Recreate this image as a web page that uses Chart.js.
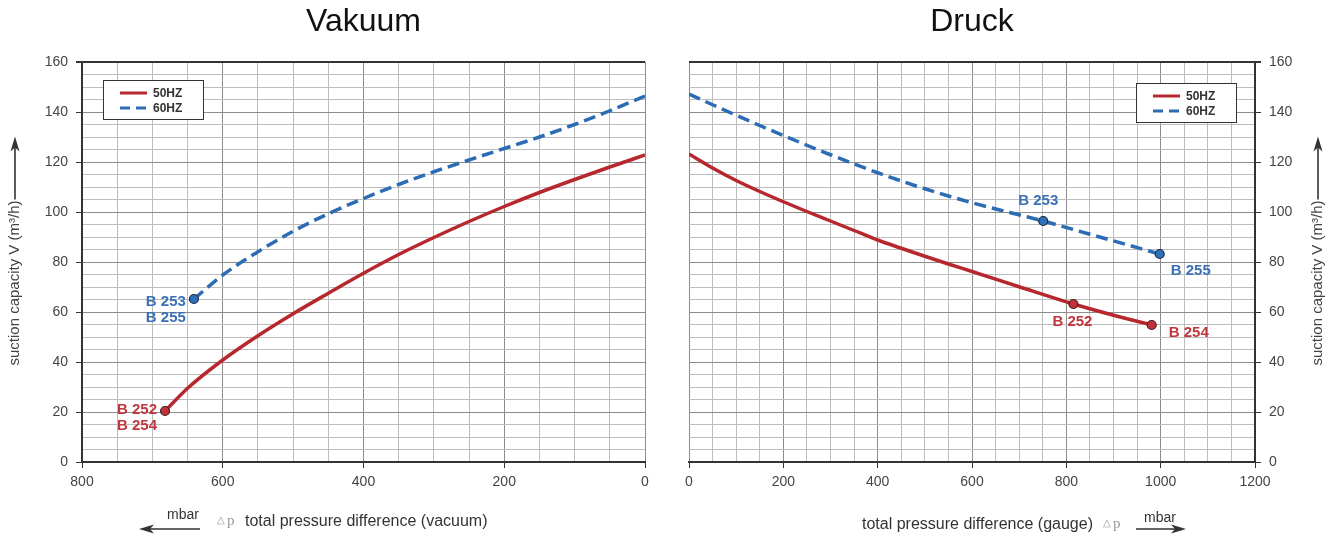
<!DOCTYPE html>
<html>
<head>
<meta charset="utf-8">
<script src="https://cdn.jsdelivr.net/npm/chart.js@4.4.1/dist/chart.umd.min.js"></script>
<style>
  html, body { margin: 0; padding: 0; background: #fff; }
  #wrap { position: relative; width: 1331px; height: 536px; }
  canvas { position: absolute; top: 0; }
  #vac { left: 0; }
  #gauge { left: 665px; }
</style>
</head>
<body>
<div id="wrap">
  <canvas id="vac" width="665" height="536"></canvas>
  <canvas id="gauge" width="666" height="536"></canvas>
</div>
<script>
// values (mbar, m³/h)
const vacPressure50 = [682, 650, 600, 550, 500, 450, 400, 350, 300, 250, 200, 150, 100, 50, 0];
const vacFlow50 = [20.4, 29.5, 40.8, 50.5, 59.3, 67.5, 75.5, 83.0, 89.8, 96.2, 102.2, 107.8, 113.0, 118.0, 122.8];
const vacPressure60 = [641, 600, 550, 500, 450, 400, 350, 300, 250, 200, 150, 100, 50, 0];
const vacFlow60 = [65.2, 74.8, 84.1, 92.3, 99.3, 105.4, 111.0, 116.1, 120.8, 125.4, 130.0, 135.0, 140.5, 146.4];

const gaugePressure50 = [0, 50, 100, 150, 200, 250, 300, 350, 400, 450, 500, 550, 600, 700, 815, 900, 981];
const gaugeFlow50 = [123.2, 117.6, 112.6, 108.2, 104.1, 100.2, 96.4, 92.6, 88.8, 85.5, 82.3, 79.2, 76.2, 70.1, 63.2, 58.7, 54.8];
const gaugePressure60 = [0, 50, 100, 150, 200, 250, 300, 350, 400, 450, 500, 550, 600, 682, 751, 850, 998];
const gaugeFlow60 = [147.2, 142.9, 138.7, 134.6, 130.6, 126.7, 122.9, 119.2, 115.7, 112.4, 109.3, 106.4, 103.7, 99.7, 96.4, 91.1, 83.2];

// indexes of the points that carry a marker dot
const vacMarks50 = [0];
const vacMarks60 = [0];
const gaugeMarks50 = [14, 16];
const gaugeMarks60 = [14, 16];

const seriesNames = ["50HZ", "60HZ"];
const yTicks = [0, 20, 40, 60, 80, 100, 120, 140, 160];

const FONT = "'Liberation Sans', Arial, sans-serif";
const RED = "#b7282e";
const BLUE = "#2b6cb4";
const RED_TXT = "#c1363f";
const BLUE_TXT = "#3b70b5";

function toPoints(xs, ys) {
  return xs.map((x, i) => ({ x: x, y: ys[i] }));
}

function radii(xs, marks) {
  return xs.map((_, i) => (marks.includes(i) ? 4.5 : 0));
}

function makeDatasets(p50, f50, m50, p60, f60, m60) {
  return [
    {
      label: seriesNames[0],
      data: toPoints(p50, f50),
      borderColor: RED,
      borderWidth: 3.5,
      pointRadius: radii(p50, m50),
      pointBackgroundColor: "#c2303c",
      pointBorderColor: "#3b2528",
      pointBorderWidth: 1.2,
      tension: 0.4,
      cubicInterpolationMode: "monotone",
    },
    {
      label: seriesNames[1],
      data: toPoints(p60, f60),
      borderColor: BLUE,
      borderWidth: 3.5,
      borderDash: [12, 6],
      pointRadius: radii(p60, m60),
      pointBackgroundColor: "#2f6fb5",
      pointBorderColor: "#1d2c44",
      pointBorderWidth: 1.2,
      tension: 0.4,
      cubicInterpolationMode: "monotone",
    },
  ];
}

function drawArrow(ctx, x1, y1, x2, y2) {
  // line from (x1,y1) to tip (x2,y2)
  const ang = Math.atan2(y2 - y1, x2 - x1);
  ctx.save();
  ctx.strokeStyle = "#333";
  ctx.fillStyle = "#333";
  ctx.lineWidth = 1.6;
  ctx.beginPath();
  ctx.moveTo(x1, y1);
  ctx.lineTo(x2 - 8 * Math.cos(ang), y2 - 8 * Math.sin(ang));
  ctx.stroke();
  ctx.translate(x2, y2);
  ctx.rotate(ang);
  ctx.beginPath();
  ctx.moveTo(0, 0);
  ctx.lineTo(-15, -4.5);
  ctx.lineTo(-11, 0);
  ctx.lineTo(-15, 4.5);
  ctx.closePath();
  ctx.fill();
  ctx.restore();
}

const decorPlugin = {
  id: "decor",
  afterDraw(chart, args, opts) {
    const ctx = chart.ctx;
    const area = chart.chartArea;
    ctx.save();

    // title
    ctx.fillStyle = "#111";
    ctx.font = "32px " + FONT;
    ctx.textAlign = "center";
    ctx.textBaseline = "middle";
    ctx.fillText(opts.title, (area.left + area.right) / 2, 22);

    // legend box
    const lx = opts.side === "left" ? area.left + 21 : area.right - 119;
    const ly = opts.side === "left" ? area.top + 18 : area.top + 21;
    ctx.fillStyle = "#fff";
    ctx.fillRect(lx, ly, 100, 39);
    ctx.strokeStyle = "#333";
    ctx.lineWidth = 1;
    ctx.strokeRect(lx + 0.5, ly + 0.5, 100, 39);
    chart.data.datasets.forEach((ds, i) => {
      const yy = ly + 13 + i * 15;
      ctx.strokeStyle = ds.borderColor;
      ctx.lineWidth = 3;
      ctx.setLineDash(ds.borderDash ? [10, 6] : []);
      ctx.beginPath();
      ctx.moveTo(lx + 17, yy);
      ctx.lineTo(lx + 44, yy);
      ctx.stroke();
      ctx.setLineDash([]);
      ctx.fillStyle = "#333";
      ctx.font = "bold 12px " + FONT;
      ctx.textAlign = "left";
      ctx.fillText(ds.label, lx + 50, yy + 1);
    });

    // point labels
    ctx.font = "bold 15px " + FONT;
    opts.labels.forEach((lb) => {
      const pt = chart.getDatasetMeta(lb.ds).data[lb.idx];
      ctx.fillStyle = lb.ds === 0 ? RED_TXT : BLUE_TXT;
      ctx.textAlign = lb.align;
      lb.lines.forEach((t, k) => {
        ctx.fillText(t, pt.x + lb.dx, pt.y + lb.dy + k * 16);
      });
    });

    // y axis caption with arrow
    const yCap = "suction capacity V (m³/h)";
    ctx.font = "15px " + FONT;
    ctx.fillStyle = "#444";
    ctx.save();
    ctx.translate(opts.yCapX, 283);
    ctx.rotate(-Math.PI / 2);
    ctx.textAlign = "center";
    ctx.fillText(yCap, 0, 0);
    const w = ctx.measureText(yCap).width;
    drawArrow(ctx, w / 2 + 1, 0, w / 2 + 64, 0);
    ctx.restore();

    // x axis caption
    const c = opts.xCap;
    ctx.textAlign = "left";
    ctx.fillStyle = "#333";
    ctx.font = "16px " + FONT;
    ctx.fillText(c.text, c.textX, c.textY);
    ctx.fillStyle = "#999";
    ctx.font = "10px " + FONT;
    ctx.fillText("△", c.dpX, c.textY - 2);
    ctx.font = "15px 'Liberation Serif', serif";
    ctx.fillText("p", c.dpX + 10, c.textY - 1);
    ctx.fillStyle = "#333";
    ctx.font = "14px " + FONT;
    ctx.textAlign = "center";
    ctx.fillText("mbar", c.mbarX, c.textY - 7);
    drawArrow(ctx, c.arrowFrom, 529, c.arrowTo, 529);

    ctx.restore();
  },
};

function makeChart(id, cfg) {
  const major = (v, step) => Math.abs(v % step) < 1e-6;
  return new Chart(document.getElementById(id), {
    type: "line",
    data: { datasets: cfg.datasets },
    plugins: [decorPlugin],
    options: {
      responsive: false,
      animation: false,
      events: [],
      layout: { padding: cfg.padding },
      scales: {
        x: {
          type: "linear",
          min: cfg.xMin,
          max: cfg.xMax,
          reverse: cfg.reverse,
          afterFit: (s) => { s.height = 40; },
          afterBuildTicks: (s) => {
            const t = [];
            for (let v = cfg.xMin; v <= cfg.xMax; v += 50) t.push({ value: v });
            s.ticks = t;
          },
          ticks: {
            autoSkip: false,
            maxRotation: 0,
            padding: 6,
            color: "#444",
            font: { size: 14, family: FONT },
            callback: (v) => (major(v, 200) ? v : ""),
          },
          grid: {
            color: (c) => (c.tick && major(c.tick.value, 200) ? "#8c8c8c" : "#bdbdbd"),
            lineWidth: 1,
            tickLength: 6,
            tickColor: (c) => (c.tick && major(c.tick.value, 200) ? "#333" : "rgba(0,0,0,0)"),
          },
          border: { color: "#333", width: 2 },
        },
        y: {
          type: "linear",
          position: cfg.yPos,
          min: 0,
          max: 160,
          afterFit: (s) => { s.width = cfg.yWidth; },
          afterBuildTicks: (s) => {
            const t = [];
            for (let v = 0; v <= 160; v += 5) t.push({ value: v });
            s.ticks = t;
          },
          ticks: {
            autoSkip: false,
            padding: 8,
            color: "#444",
            font: { size: 14, family: FONT },
            callback: (v) => (yTicks.includes(v) ? v : ""),
          },
          grid: {
            color: (c) => {
              if (!c.tick) return "#bdbdbd";
              if (c.tick.value === 160) return "#333";
              return major(c.tick.value, 20) ? "#8c8c8c" : "#bdbdbd";
            },
            lineWidth: (c) => (c.tick && c.tick.value === 160 ? 2 : 1),
            tickLength: 6,
            tickColor: (c) => (c.tick && yTicks.includes(c.tick.value) ? "#333" : "rgba(0,0,0,0)"),
          },
          border: { color: "#333", width: 2 },
        },
      },
      plugins: {
        legend: { display: false },
        tooltip: { enabled: false },
        decor: cfg.decor,
      },
    },
  });
}

makeChart("vac", {
  datasets: makeDatasets(vacPressure50, vacFlow50, vacMarks50, vacPressure60, vacFlow60, vacMarks60),
  xMin: 0,
  xMax: 800,
  reverse: true,
  yPos: "left",
  yWidth: 82,
  padding: { top: 62, right: 20, bottom: 34, left: 0 },
  decor: {
    title: "Vakuum",
    side: "left",
    yCapX: 15,
    labels: [
      { ds: 0, idx: 0, lines: ["B 252", "B 254"], dx: -8, dy: -1, align: "right" },
      { ds: 1, idx: 0, lines: ["B 253", "B 255"], dx: -8, dy: 3, align: "right" },
    ],
    xCap: {
      text: "total pressure difference (vacuum)",
      textX: 245, textY: 522, dpX: 217, mbarX: 183, arrowFrom: 200, arrowTo: 139,
    },
  },
});

makeChart("gauge", {
  datasets: makeDatasets(gaugePressure50, gaugeFlow50, gaugeMarks50, gaugePressure60, gaugeFlow60, gaugeMarks60),
  xMin: 0,
  xMax: 1200,
  reverse: false,
  yPos: "right",
  yWidth: 76,
  padding: { top: 62, right: 0, bottom: 34, left: 24 },
  decor: {
    title: "Druck",
    side: "right",
    yCapX: 653,
    labels: [
      { ds: 0, idx: 14, lines: ["B 252"], dx: -1, dy: 18, align: "center" },
      { ds: 0, idx: 16, lines: ["B 254"], dx: 17, dy: 8, align: "left" },
      { ds: 1, idx: 14, lines: ["B 253"], dx: -5, dy: -20, align: "center" },
      { ds: 1, idx: 16, lines: ["B 255"], dx: 11, dy: 17, align: "left" },
    ],
    xCap: {
      text: "total pressure difference (gauge)",
      textX: 197, textY: 525, dpX: 438, mbarX: 495, arrowFrom: 471, arrowTo: 521,
    },
  },
});
</script>
</body>
</html>
